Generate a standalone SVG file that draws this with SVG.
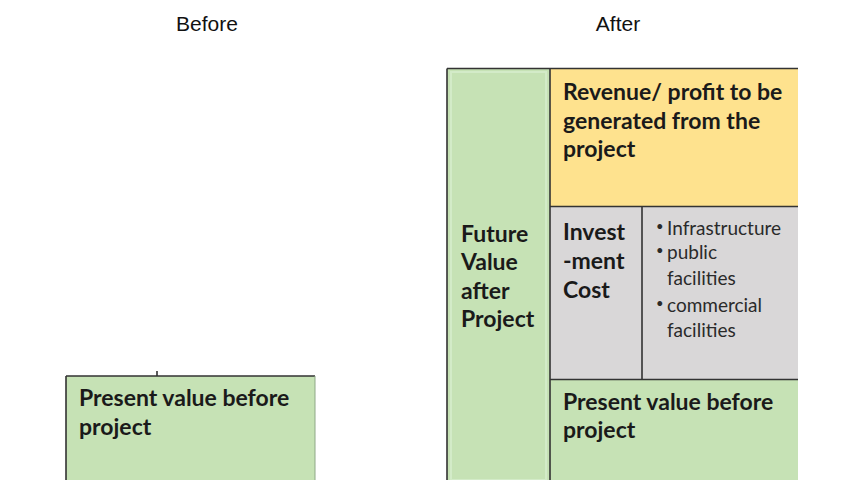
<svg xmlns="http://www.w3.org/2000/svg" width="867" height="480" viewBox="0 0 867 480">
  <style>
    .title { font-family: "Liberation Sans", Arial, sans-serif; font-size: 21px; fill: #111; }
    .bold { font-family: Lato, "Open Sans", sans-serif; font-weight: bold; font-size: 23px; fill: #1a1a1a; }
    .item { font-family: Lato, "Open Sans", sans-serif; font-size: 19px; fill: #2a2a2a; }
    .dot { font-family: Lato, "Open Sans", sans-serif; font-size: 13px; fill: #2a2a2a; }
    .green { fill: #c6e2b5; }
    .yellow { fill: #fee28e; }
    .grey { fill: #d9d7d8; }
    .edge { stroke: #333; stroke-width: 1.6; fill: none; }
  </style>

  <!-- column headings -->
  <g id="heading-before">
    <text class="title" x="207" y="31" text-anchor="middle">Before</text>
  </g>
  <g id="heading-after">
    <text class="title" x="618" y="31" text-anchor="middle">After</text>
  </g>

  <!-- Before: present value block -->
  <g id="present-before">
    <rect class="green" x="66" y="376" width="249" height="104"/>
    <path class="edge" d="M66 376 H315 M66 376 V480 M157 371 V376"/>
    <line x1="315" y1="376" x2="315" y2="480" stroke="#8fa887" stroke-width="1"/>
    <text class="bold" x="79" y="406">Present value before</text>
    <text class="bold" x="79" y="435">project</text>
  </g>

  <!-- After: future value column -->
  <g id="future-value">
    <rect class="green" x="447" y="68.5" width="103" height="411.5"/>
    <rect x="451" y="72" width="95" height="408" fill="none" stroke="#d3ebc8" stroke-width="2"/>
    <text class="bold" x="461" y="241.5">Future</text>
    <text class="bold" x="461" y="270">Value</text>
    <text class="bold" x="461" y="298.5">after</text>
    <text class="bold" x="461" y="327">Project</text>
  </g>

  <!-- After: revenue block -->
  <g id="revenue">
    <rect class="yellow" x="550" y="68.5" width="248" height="138"/>
    <text class="bold" x="563" y="100">Revenue/ profit to be</text>
    <text class="bold" x="563" y="128.5">generated from the</text>
    <text class="bold" x="563" y="157">project</text>
  </g>

  <!-- After: investment cost block -->
  <g id="investment-cost">
    <rect class="grey" x="550" y="206.5" width="92" height="173"/>
    <text class="bold" x="563" y="240">Invest</text>
    <text class="bold" x="563" y="268.5">-ment</text>
    <text class="bold" x="563" y="297.5">Cost</text>
  </g>

  <!-- After: cost items -->
  <g id="cost-items">
    <rect class="grey" x="642" y="206.5" width="156" height="173"/>
    <text class="dot" x="656" y="231">•</text>
    <text class="item" x="667" y="235">Infrastructure</text>
    <text class="dot" x="656" y="254.5">•</text>
    <text class="item" x="667" y="258.5">public</text>
    <text class="item" x="667" y="285">facilities</text>
    <text class="dot" x="656" y="308">•</text>
    <text class="item" x="667" y="312">commercial</text>
    <text class="item" x="667" y="337">facilities</text>
  </g>

  <!-- After: present value block -->
  <g id="present-after">
    <rect class="green" x="550" y="379.5" width="248" height="100.5"/>
    <text class="bold" x="563" y="409.5">Present value before</text>
    <text class="bold" x="563" y="438">project</text>
  </g>

  <!-- table rules of the After stack -->
  <g id="rules">
    <path class="edge" d="M447 68.5 H798 M447 68.5 V480 M550 68.5 V480 M550 206.5 H798 M642 206.5 V379.5 M550 379.5 H798"/>
  </g>
</svg>
